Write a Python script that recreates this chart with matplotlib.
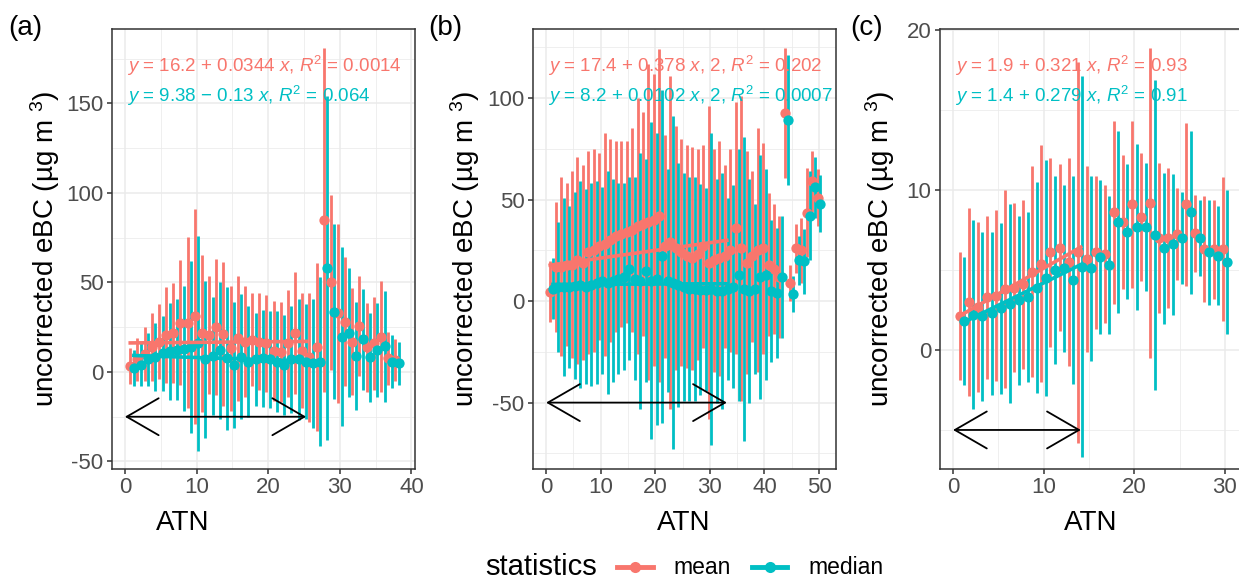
import matplotlib
matplotlib.use('Agg')
import matplotlib.pyplot as plt
import numpy as np
from matplotlib.patches import FancyArrowPatch, ArrowStyle
from matplotlib.lines import Line2D

# ---------------- data ----------------
atn_a = [1, 2, 3, 4, 5, 6, 7, 8, 9, 10, 11, 12, 13, 14, 15, 16, 17, 18, 19, 20,
         21, 22, 23, 24, 25, 26, 27, 28, 29, 30, 31, 32, 33, 34, 35, 36, 37, 38]
mean_a = [3.4, 7, 10, 14, 17, 20.7, 21.6, 27.6, 27.6, 31, 21.6, 20.7, 25.3, 21.2, 13.2,
          18.8, 17, 17.9, 17, 16, 11.9, 11.3, 16, 21.6, 11.9, 8.2, 14, 85, 50, 32.8,
          28, 17, 25.7, 13.8, 16, 19.7, 7.6, 6.7]
median_a = [2, 4, 7, 8.5, 10.5, 11.5, 12.5, 13, 14, 16, 7, 9, 12, 7.6, 3.9, 8.5, 5.8,
            7, 7.6, 7, 5.8, 3.9, 7, 7, 5.8, 4.9, 5.8, 58, 33.7, 19.7, 22, 8.9, 18.2,
            8.2, 12.3, 14.5, 5.8, 4.8]
sd_a = [10, 12, 15, 19, 21, 27, 28, 35, 48, 60, 44, 33, 38, 40, 35, 35, 31, 26, 27,
        27, 28, 28, 30, 34, 32, 36, 47, 96, 49, 50, 36, 30, 28, 25, 26, 31, 15, 12]

atn_b = [1, 2, 3, 4, 5, 6, 7, 8, 9, 10, 11, 12, 13, 14, 15, 16, 17, 18, 19, 20,
         21, 22, 23, 24, 25, 26, 27, 28, 29, 30, 31, 32, 33, 34, 35, 36, 37, 38, 39, 40,
         41, 42, 43, 44, 45, 46, 47, 48, 49, 50]
mean_b = [4.6, 17, 17, 18, 18, 20, 19, 24, 25, 27, 28, 30, 32, 33, 34, 35, 37, 38, 39, 40,
          42, 27, 29, 26, 24, 22, 21, 23, 27, 19, 20, 21, 22, 25, 36, 26, 19, 22, 25, 26,
          18, 16, 12, 92.8, 9, 26, 25, 43.5, 59, 51]
median_b = [6, 7, 7, 7, 7.5, 8, 7, 8, 9, 10, 9, 10, 11, 12, 16, 11, 10, 15, 10, 11,
            22, 10, 9, 8, 7, 6, 6, 5.5, 5.5, 6, 5, 5, 6, 7, 13, 6, 5, 6, 12, 13,
            5, 4, 12, 89, 3.4, 20, 19.7, 42, 56, 48]
sd_b = [15, 32, 44, 40, 46, 51, 48, 50, 50, 46, 55, 50, 47, 46, 45, 50, 63, 55, 78, 72,
        82, 55, 82, 60, 56, 55, 55, 52, 50, 77, 55, 58, 45, 50, 62, 75, 55, 42, 60, 52,
        35, 32, 30, 32, 9, 12, 16, 22, 15, 14]

atn_c = [1, 2, 3, 4, 5, 6, 7, 8, 9, 10, 11, 12, 13, 14, 15, 16, 17, 18, 19, 20,
         21, 22, 23, 24, 25, 26, 27, 28, 29, 30]
mean_c = [2.1, 3.0, 2.7, 3.3, 3.4, 3.8, 3.9, 4.1, 4.9, 5.4, 6.1, 6.4, 5.5, 6.1, 5.7,
          6.1, 6.0, 8.6, 8.0, 9.1, 8.3, 9.2, 7.0, 7.0, 7.25, 9.1, 7.3, 6.3, 6.3, 6.3]
median_c = [1.8, 2.2, 2.1, 2.3, 2.6, 2.9, 3.1, 3.3, 3.9, 4.5, 5.0, 5.1, 4.4, 5.2, 5.1,
            5.8, 5.3, 8.0, 7.4, 7.7, 7.7, 7.2, 6.35, 6.6, 7.0, 8.6, 7.0, 6.1, 5.9, 5.5]
sd_c = [4.0, 5.9, 5.3, 5.1, 5.35, 6.2, 5.3, 5.3, 6.6, 7.4, 5.9, 5.2, 6.5, 11.9, 5.8,
        4.8, 4.3, 5.7, 4.2, 5.2, 4.0, 9.7, 4.7, 4.4, 2.85, 5.1, 2.4, 3.3, 3.1, 4.5]

# regression fits (intercept, slope) as printed, and fit range end
fit_mean = {'a': (16.2, 0.0344), 'b': (17.4, 0.378), 'c': (1.9, 0.321)}
fit_median = {'a': (9.38, -0.13), 'b': (8.2, 0.0102), 'c': (1.4, 0.279)}
labels_mean = {'a': r'$y$ = 16.2 + 0.0344 $x$, $R^2$ = 0.0014',
               'b': r'$y$ = 17.4 + 0.378 $x$, 2, $R^2$ = 0.202',
               'c': r'$y$ = 1.9 + 0.321 $x$, $R^2$ = 0.93'}
labels_median = {'a': r'$y$ = 9.38 − 0.13 $x$, $R^2$ = 0.064',
                 'b': r'$y$ = 8.2 + 0.0102 $x$, 2, $R^2$ = 0.0007',
                 'c': r'$y$ = 1.4 + 0.279 $x$, $R^2$ = 0.91'}
arrow_end = {'a': 25.3, 'b': 33.1, 'c': 14.1}
arrow_y = {'a': -25, 'b': -50, 'c': -5}

# ---------------- style ----------------
plt.rcParams['font.family'] = ['Liberation Sans', 'DejaVu Sans']
plt.rcParams['mathtext.fontset'] = 'custom'
plt.rcParams['mathtext.rm'] = 'Liberation Sans'
plt.rcParams['mathtext.it'] = 'Liberation Sans:italic'
plt.rcParams['mathtext.bf'] = 'Liberation Sans:bold'
plt.rcParams['axes.unicode_minus'] = False

RED = '#F8766D'
CYAN = '#00BFC4'
W, H = 1239, 581
fig = plt.figure(figsize=(W / 100, H / 100), dpi=100)


def rect(l, r, t, b):
    return [l / W, 1 - b / H, (r - l) / W, (b - t) / H]


panels = {
    'a': dict(rect=rect(112, 415, 29, 469), xlim=(-1.8, 40.5), ylim=(-54.2, 191.6),
              xmaj=[0, 10, 20, 30, 40], xmin=[5, 15, 25, 35],
              ymaj=[-50, 0, 50, 100, 150], ymin=[-25, 25, 75, 125, 175],
              atn=atn_a, mean=mean_a, med=median_a, sd=sd_a,
              tag_x=8, ylab_x=45, xlab_x=183),
    'b': dict(rect=rect(533, 836, 29, 469), xlim=(-2.4, 53.1), ylim=(-82.7, 134),
              xmaj=[0, 10, 20, 30, 40, 50], xmin=[5, 15, 25, 35, 45],
              ymaj=[-50, 0, 50, 100], ymin=[-75, -25, 25, 75, 125],
              atn=atn_b, mean=mean_b, med=median_b, sd=sd_b,
              tag_x=428, ylab_x=465, xlab_x=684),
    'c': dict(rect=rect(940, 1243, 29, 469), xlim=(-1.44, 32.0), ylim=(-7.44, 20.06),
              xmaj=[0, 10, 20, 30], xmin=[5, 15, 25],
              ymaj=[0, 10, 20], ymin=[-5, 5, 15],
              atn=atn_c, mean=mean_c, med=median_c, sd=sd_c,
              tag_x=850, ylab_x=880, xlab_x=1091),
}

for key, p in panels.items():
    ax = fig.add_axes(p['rect'])
    ax.set_xlim(*p['xlim'])
    ax.set_ylim(*p['ylim'])
    ax.set_xticks(p['xmaj'])
    ax.set_xticks(p['xmin'], minor=True)
    ax.set_yticks(p['ymaj'])
    ax.set_yticks(p['ymin'], minor=True)
    ax.grid(which='major', color='#EBEBEB', lw=1.1)
    ax.grid(which='minor', color='#EBEBEB', lw=0.55)
    ax.set_axisbelow(True)
    for s in ax.spines.values():
        s.set_color('#333333')
        s.set_linewidth(1.1)
    ax.tick_params(which='minor', length=0)
    ax.tick_params(which='major', length=3.6, width=1.1, color='#333333',
                   labelsize=16, labelcolor='#4D4D4D', pad=2.5)

    x = np.array(p['atn'], dtype=float)
    mean = np.array(p['mean'])
    med = np.array(p['med'])
    sd = np.array(p['sd'])
    xm = x - 0.25
    xd = x + 0.25

    ax.vlines(xm, mean - sd, mean + sd, color=RED, lw=2.0, zorder=2)
    ax.plot(xm, mean, 'o', color=RED, ms=7.4, mec='none', zorder=3)
    ax.vlines(xd, med - sd, med + sd, color=CYAN, lw=2.0, zorder=2)
    ax.plot(xd, med, 'o', color=CYAN, ms=7.4, mec='none', zorder=3)

    xs = np.array([xm[0], arrow_end[key]])
    a0, b0 = fit_mean[key]
    ax.plot(xs, a0 + b0 * xs, color=RED, lw=2.6, zorder=4)
    a1, b1 = fit_median[key]
    xs2 = np.array([xd[0], arrow_end[key]])
    ax.plot(xs2, a1 + b1 * xs2, color=CYAN, lw=2.6, zorder=4)

    arr = FancyArrowPatch((0, arrow_y[key]), (arrow_end[key], arrow_y[key]),
                          arrowstyle=ArrowStyle('<->', head_length=23, head_width=13.3),
                          mutation_scale=1, color='black', lw=1.3,
                          shrinkA=0, shrinkB=0, zorder=5)
    ax.add_patch(arr)

    l_px = p['rect'][0] * W
    fig.text((l_px + 15) / W, 1 - 71.5 / H, labels_mean[key], color=RED,
             fontsize=13.5, ha='left', va='baseline')
    fig.text((l_px + 15) / W, 1 - 101.5 / H, labels_median[key], color=CYAN,
             fontsize=13.5, ha='left', va='baseline')

    fig.text(p['tag_x'] / W, 1 - 28 / H, '(' + key + ')', fontsize=20,
             ha='left', va='center')
    fig.text(p['ylab_x'] / W, 1 - 249 / H, 'uncorrected eBC (µg m $^{3}$)',
             fontsize=20, rotation=90, ha='center', va='center')
    fig.text(p['xlab_x'] / W, 1 - 523 / H, 'ATN', fontsize=20,
             ha='center', va='center')

# legend (bottom)
ly = 1 - 567 / H
fig.text(485 / W, ly, 'statistics', fontsize=21, ha='left', va='center')
for (x0, x1, col, lab, tx) in [(617, 653, RED, 'mean', 673),
                               (752, 787, CYAN, 'median', 808)]:
    fig.add_artist(Line2D([x0 / W, x1 / W], [ly, ly], color=col, lw=3.5,
                          transform=fig.transFigure))
    fig.add_artist(Line2D([(x0 + x1) / 2 / W], [ly], color=col, marker='o', ms=8,
                          mec='none', transform=fig.transFigure))
    fig.text(tx / W, ly, lab, fontsize=16.5, ha='left', va='center')

fig.savefig('out.png', dpi=100, facecolor='white')
